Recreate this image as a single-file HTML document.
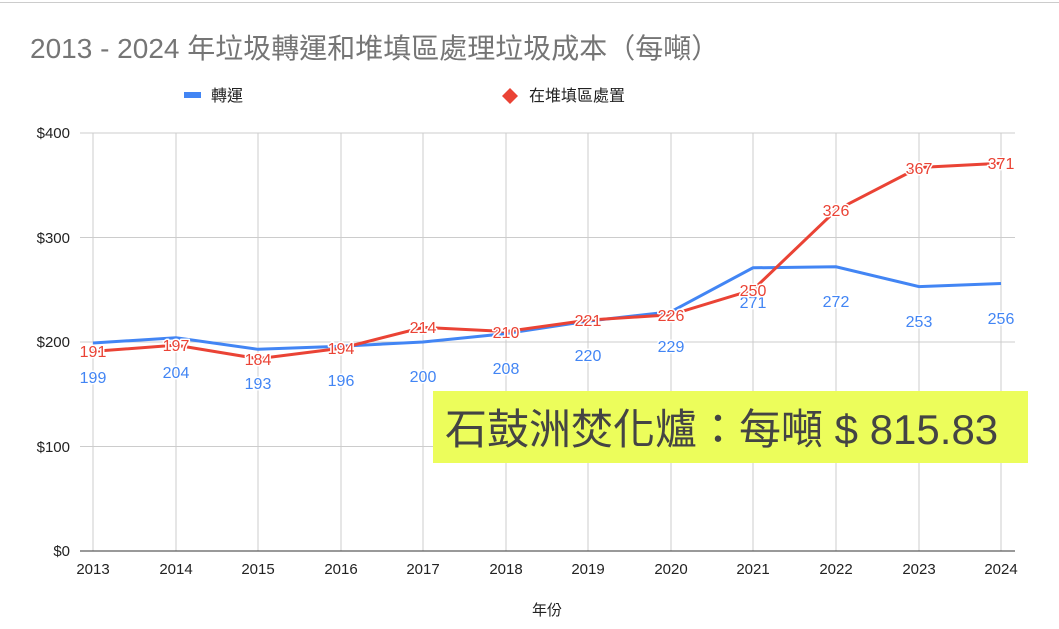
<!DOCTYPE html>
<html><head><meta charset="utf-8"><style>
body{margin:0;background:#fff;}
svg{display:block;font-family:"Liberation Sans","Noto Sans CJK TC",sans-serif;}
.lb{paint-order:stroke;stroke:#fff;stroke-width:3px;stroke-linejoin:round;font-size:16px;text-anchor:middle;}
.b{fill:#4285f4}.r{fill:#ea4335}
</style></head><body>
<svg width="1059" height="629" viewBox="0 0 1059 629">
<line x1="0" y1="2.5" x2="1059" y2="2.5" stroke="#ccc" stroke-width="1"/>
<text x="30" y="58" font-size="28" fill="#757575">2013 - 2024 年垃圾轉運和堆填區處理垃圾成本（每噸）</text>
<rect x="184" y="92" width="17" height="6" fill="#4285f4"/>
<text x="211" y="101" font-size="16" fill="#222">轉運</text>
<path d="M510 88 L518 96 L510 104 L502 96 Z" fill="#ea4335"/>
<text x="529" y="101" font-size="16" fill="#222">在堆填區處置</text>
<g stroke="#ccc" stroke-width="1">
<line x1="80" y1="133" x2="1015" y2="133"/>
<line x1="80" y1="237.5" x2="1015" y2="237.5"/>
<line x1="80" y1="342" x2="1015" y2="342"/>
<line x1="80" y1="446.5" x2="1015" y2="446.5"/>
<line x1="93" y1="133" x2="93" y2="551"/>
<line x1="176" y1="133" x2="176" y2="551"/>
<line x1="258" y1="133" x2="258" y2="551"/>
<line x1="341" y1="133" x2="341" y2="551"/>
<line x1="423" y1="133" x2="423" y2="551"/>
<line x1="506" y1="133" x2="506" y2="551"/>
<line x1="588" y1="133" x2="588" y2="551"/>
<line x1="671" y1="133" x2="671" y2="551"/>
<line x1="753" y1="133" x2="753" y2="551"/>
<line x1="836" y1="133" x2="836" y2="551"/>
<line x1="919" y1="133" x2="919" y2="551"/>
<line x1="1001" y1="133" x2="1001" y2="551"/>
</g>
<g font-size="15" fill="#222" text-anchor="end">
<text x="70" y="138">$400</text><text x="70" y="243">$300</text><text x="70" y="347">$200</text><text x="70" y="452">$100</text><text x="70" y="556">$0</text>
</g>
<line x1="80" y1="551" x2="1015" y2="551" stroke="#333" stroke-width="1"/>
<g font-size="15" fill="#222" text-anchor="middle">
<text x="93" y="574">2013</text><text x="176" y="574">2014</text><text x="258" y="574">2015</text><text x="341" y="574">2016</text><text x="423" y="574">2017</text><text x="506" y="574">2018</text><text x="588" y="574">2019</text><text x="671" y="574">2020</text><text x="753" y="574">2021</text><text x="836" y="574">2022</text><text x="919" y="574">2023</text><text x="1001" y="574">2024</text>
</g>
<polyline points="93,343 176,337.8 258,349.3 341,346.2 423,342 506,333.6 588,321.1 671,311.7 753,267.8 836,266.8 919,286.6 1001,283.5" fill="none" stroke="#4285f4" stroke-width="3"/>
<polyline points="93,351.4 176,345.1 258,358.7 341,348.3 423,327.4 506,331.5 588,320.1 671,314.8 753,289.8 836,210.3 919,167.5 1001,163.3" fill="none" stroke="#ea4335" stroke-width="3"/>
<g class="lb b">
<text x="93" y="383">199</text><text x="176" y="378">204</text><text x="258" y="389">193</text><text x="341" y="386">196</text><text x="423" y="382">200</text><text x="506" y="374">208</text><text x="588" y="361">220</text><text x="671" y="352">229</text><text x="753" y="308">271</text><text x="836" y="307">272</text><text x="919" y="327">253</text><text x="1001" y="324">256</text>
</g>
<g class="lb r">
<text x="93" y="357">191</text><text x="176" y="351">197</text><text x="258" y="365">184</text><text x="341" y="354">194</text><text x="423" y="333">214</text><text x="506" y="338">210</text><text x="588" y="326">221</text><text x="671" y="321">226</text><text x="753" y="296">250</text><text x="836" y="216">326</text><text x="919" y="174">367</text><text x="1001" y="169">371</text>
</g>
<text x="547" y="615" font-size="15" fill="#222" text-anchor="middle">年份</text>
<rect x="433" y="391" width="595" height="72" fill="#ecfd5b"/>
<text x="445" y="444" font-size="42" fill="#444">石鼓洲焚化爐：每噸 $ 815.83</text>
</svg>
</body></html>
